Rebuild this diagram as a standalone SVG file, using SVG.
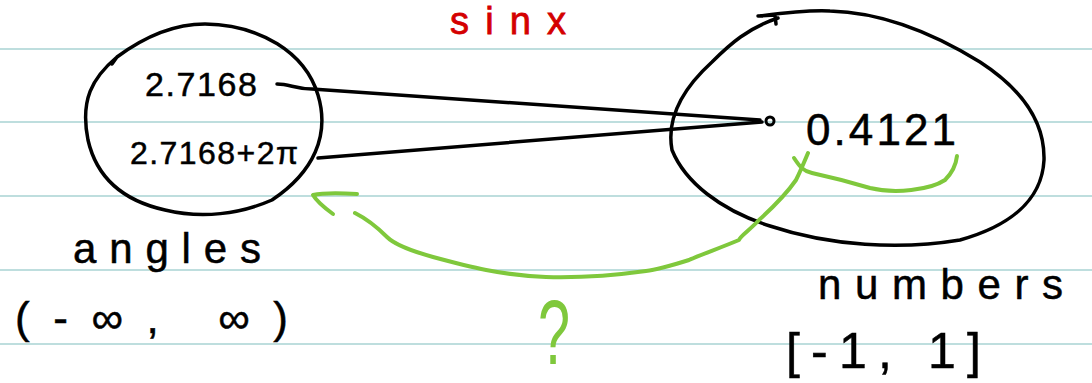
<svg xmlns="http://www.w3.org/2000/svg" width="1092" height="383" viewBox="0 0 1092 383">
<style>
.rule{stroke:#a9d3d3;stroke-width:1.5}
.ink{fill:none;stroke:#000;stroke-width:3.5;stroke-linecap:round;stroke-linejoin:round}
.green{fill:none;stroke:#7fc83c;stroke-width:4;stroke-linecap:round;stroke-linejoin:round}
.t{font-family:"Liberation Sans",Arial,sans-serif;fill:#000;stroke:#000;stroke-width:0.5}
</style>
<rect width="1092" height="383" fill="#fff"/>
<g id="rules">
<line class="rule" x1="0" y1="49" x2="1092" y2="49"/>
<line class="rule" x1="0" y1="122" x2="1092" y2="122"/>
<line class="rule" x1="0" y1="196" x2="1092" y2="196"/>
<line class="rule" x1="0" y1="270" x2="1092" y2="270"/>
<line class="rule" x1="0" y1="344" x2="1092" y2="344"/>
</g>
<g id="title">
<text x="450" y="34" font-size="38" font-family="'Liberation Sans',Arial,sans-serif" fill="#d40000" stroke="#d40000" stroke-width="0.8" textLength="116" lengthAdjust="spacing">sinx</text>
</g>
<g id="angles-set">
<path class="ink" d="M112,64 L117,57 C140,40 170,24 205,24 C260,25 305,52 318,95 C330,135 314,172 272,200 C240,214 202,219 165,210 C120,200 96,175 88,140 C80,100 92,78 117,57"/>
<text class="t" x="145" y="96" font-size="34" textLength="112" lengthAdjust="spacing">2.7168</text>
<text class="t" x="130" y="164" font-size="32" textLength="168" lengthAdjust="spacing">2.7168+2π</text>
<text class="t" x="73" y="263" font-size="42" textLength="188" lengthAdjust="spacing">angles</text>
<text class="t" x="15" y="333" font-size="44" textLength="273" lengthAdjust="spacing">(-∞, ∞)</text>
</g>
<g id="numbers-set">
<path class="ink" d="M758,16 L775,15 L776,24 M760,16 C790,12 810,10 830,11 C870,12 920,25 980,62 C1020,88 1045,120 1044,160 C1042,200 1010,226 960,240 C900,250 830,246 770,226 C720,210 685,182 672,150 C665,112 690,82 712,62 C730,44 748,28 778,18"/>
<text class="t" x="806" y="145" font-size="44" textLength="150" lengthAdjust="spacing">0.4121</text>
<text class="t" x="818" y="299" font-size="42" textLength="245" lengthAdjust="spacing">numbers</text>
<text class="t" x="786" y="368" font-size="50" textLength="195" lengthAdjust="spacing">[-1, 1]</text>
</g>
<g id="connectors">
<path class="ink" d="M277,84 C290,84 295,89 312,89 L760,120"/>
<path class="ink" d="M318,158 L762,122"/>
<circle cx="770" cy="121" r="4" fill="none" stroke="#000" stroke-width="3"/>
<path class="green" d="M794,158 C800,167 803,171 812,173 C835,178 850,182 870,188 C895,194 930,190 945,180 C953,172 956,165 957,156"/>
<path class="green" d="M808,153 C803,165 800,172 796,180 C785,196 770,210 759,220 C750,230 740,236 739,240 C720,248 700,255 689,260 C670,266 655,270 646,271 C610,276 580,278 546,277 C500,275 470,267 433,257 C415,252 395,245 387,237 C375,225 365,218 355,213"/>
<path class="green" d="M333,214 C322,206 316,200 313,195 C322,193 340,193 357,194"/>
<text x="538" y="364" font-size="90" font-family="'Liberation Sans',Arial,sans-serif" fill="#7fc83c" textLength="32" lengthAdjust="spacingAndGlyphs">?</text>
</g>
</svg>
